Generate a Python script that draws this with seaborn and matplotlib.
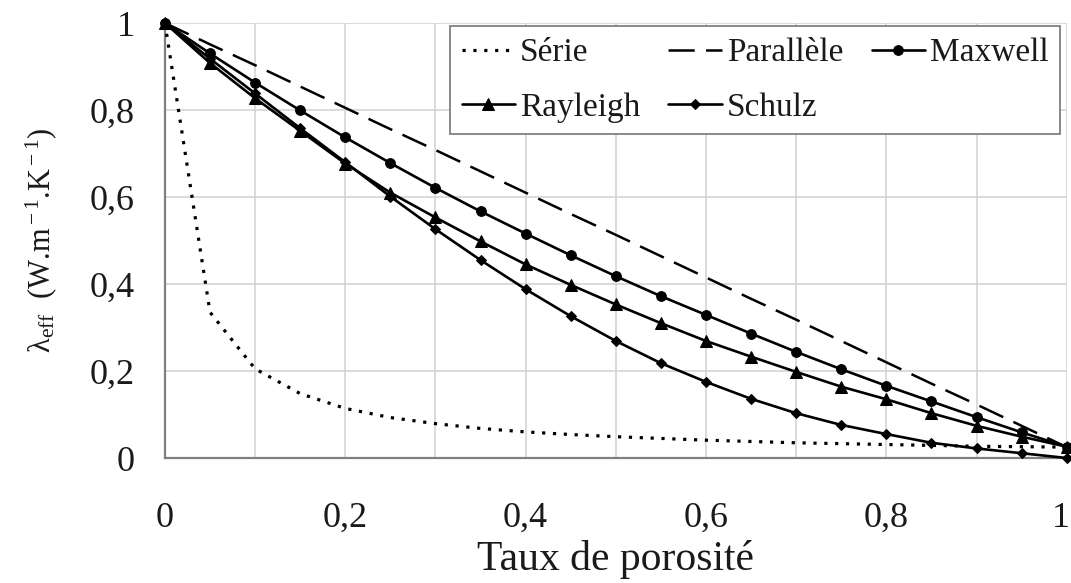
import matplotlib
matplotlib.use("Agg")
import matplotlib.pyplot as plt
import matplotlib.transforms as mtransforms
from matplotlib.ticker import MultipleLocator, FuncFormatter
import seaborn as sns
import pandas as pd

# Porosity values (fraction)
porosity = [0.00, 0.05, 0.10, 0.15, 0.20, 0.25, 0.30, 0.35, 0.40, 0.45, 0.50,
            0.55, 0.60, 0.65, 0.70, 0.75, 0.80, 0.85, 0.90, 0.95, 1.00]

# Effective thermal conductivity for each model (W/m/K)
serie = [1.000, 0.335, 0.205, 0.148, 0.114, 0.093, 0.079, 0.068, 0.060, 0.054, 0.049,
         0.045, 0.041, 0.038, 0.035, 0.033, 0.031, 0.029, 0.027, 0.026, 0.025]
parallele = [1.000, 0.951, 0.903, 0.854, 0.805, 0.756, 0.708, 0.659, 0.610, 0.561, 0.513,
             0.464, 0.415, 0.366, 0.318, 0.269, 0.220, 0.171, 0.123, 0.074, 0.025]
maxwell = [1.000, 0.930, 0.863, 0.799, 0.737, 0.678, 0.621, 0.567, 0.516, 0.466, 0.418,
           0.372, 0.329, 0.286, 0.244, 0.204, 0.166, 0.130, 0.094, 0.059, 0.026]
rayleigh = [1.000, 0.908, 0.827, 0.752, 0.677, 0.610, 0.553, 0.498, 0.445, 0.398, 0.353,
            0.310, 0.269, 0.233, 0.198, 0.164, 0.135, 0.103, 0.074, 0.049, 0.026]
schulz = [1.000, 0.918, 0.838, 0.758, 0.680, 0.601, 0.526, 0.455, 0.388, 0.326, 0.269,
          0.218, 0.175, 0.136, 0.103, 0.076, 0.055, 0.035, 0.022, 0.011, 0.000]

series_names = ["Série", "Parallèle", "Maxwell", "Rayleigh", "Schulz"]
series_values = [serie, parallele, maxwell, rayleigh, schulz]

x_ticks = [0, 0.2, 0.4, 0.6, 0.8, 1]
y_ticks = [0, 0.2, 0.4, 0.6, 0.8, 1]

frames = [pd.DataFrame({"porosite": porosity, "lambda": vals, "modele": name})
          for name, vals in zip(series_names, series_values)]
df = pd.concat(frames, ignore_index=True)

sns.set_theme(style="white")
plt.rcParams["font.family"] = ["Liberation Serif", "DejaVu Serif"]
plt.rcParams["mathtext.fontset"] = "custom"
plt.rcParams["mathtext.rm"] = "Liberation Serif"
plt.rcParams["mathtext.it"] = "Liberation Serif:italic"

fig = plt.figure(figsize=(10.71, 5.83), dpi=100)
ax = fig.add_axes([0.154, 0.2144, 0.842, 0.7461])

styles = {
    "Série":     dict(linestyle=(0, (1.0, 2.4)), marker=None, ms=0, lw=2.3),
    "Parallèle": dict(linestyle=(0, (10.5, 4.5)), marker=None, ms=0, lw=1.8),
    "Maxwell":   dict(linestyle="-", marker="o", ms=7, lw=1.9),
    "Rayleigh":  dict(linestyle="-", marker="^", ms=8, lw=1.9),
    "Schulz":    dict(linestyle="-", marker="D", ms=5, lw=1.9),
}

for name in series_names:
    st = styles[name]
    sub = df[df["modele"] == name]
    sns.lineplot(data=sub, x="porosite", y="lambda", ax=ax, color="black",
                 linewidth=st["lw"], linestyle=st["linestyle"], marker=st["marker"],
                 markersize=st["ms"], markeredgecolor="black", markerfacecolor="black",
                 label=name, clip_on=False, zorder=3, estimator=None)

ax.set_xlim(0, 1)
ax.set_ylim(0, 1)
ax.set_xticks(x_ticks)
ax.set_yticks(y_ticks)
ax.xaxis.set_minor_locator(MultipleLocator(0.1))

fmt = FuncFormatter(lambda v, _: ("%g" % v).replace(".", ","))
ax.xaxis.set_major_formatter(fmt)
ax.yaxis.set_major_formatter(fmt)

ax.grid(True, which="major", color="#d4d4d4", linewidth=1.2)
ax.grid(True, which="minor", axis="x", color="#d4d4d4", linewidth=1.2)
ax.set_axisbelow(True)

for side in ["top", "right"]:
    ax.spines[side].set_visible(False)
for side in ["left", "bottom"]:
    ax.spines[side].set_color("#808080")
    ax.spines[side].set_linewidth(1.6)

ax.tick_params(axis="both", which="major", direction="out", length=8.5, width=1.3,
               color="#808080", labelsize=26, labelcolor="#1a1a1a")
ax.tick_params(axis="x", which="major", pad=23)
ax.tick_params(axis="y", which="major", pad=13)
ax.tick_params(axis="x", which="minor", length=0)

# keep the last x tick label inside the figure
fig.canvas.draw()
last = ax.get_xticklabels()[-1]
last.set_transform(last.get_transform() +
                   mtransforms.ScaledTranslation(-6 / 100, 0, fig.dpi_scale_trans))

ax.set_xlabel("Taux de porosité", fontsize=30, color="#1a1a1a", labelpad=4)
ax.set_ylabel("λ$_{\\rm eff}$  (W.m$^{\\rm -1}$.K$^{\\rm -1}$)", fontsize=22,
              color="#1a1a1a", labelpad=22)

handles, labels = ax.get_legend_handles_labels()
order = [labels.index(n) for n in ["Série", "Rayleigh", "Parallèle", "Schulz", "Maxwell"]]
leg = ax.legend([handles[i] for i in order], [labels[i] for i in order],
                ncol=3, loc="upper left", bbox_to_anchor=(0.316, 0.993),
                fontsize=24, frameon=True, fancybox=False, shadow=False,
                handlelength=1.6, handletextpad=0.15, columnspacing=0.85,
                labelspacing=0.72, borderpad=0.35, numpoints=1, borderaxespad=0)
leg.get_frame().set_edgecolor("#808080")
leg.get_frame().set_linewidth(1.3)
leg.get_frame().set_facecolor("white")
leg.get_frame().set_alpha(1)
for t in leg.get_texts():
    t.set_color("#1a1a1a")

fig.savefig("out.png", dpi=100)
